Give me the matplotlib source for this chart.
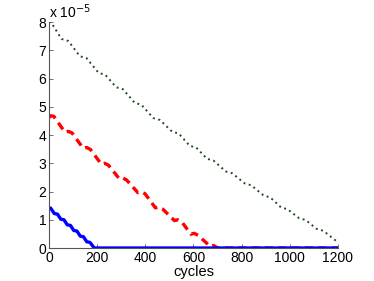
import matplotlib
matplotlib.use("Agg")
import matplotlib.pyplot as plt

plt.rcParams['font.family'] = ['Liberation Sans', 'DejaVu Sans']

# Blue (solid) series, values in units of 1e-5
blue_x = [0, 7, 22, 35, 49, 62, 76, 89, 103, 116, 130, 143, 157, 170, 188, 1200]
blue_y = [1.42, 1.41, 1.22, 1.20, 1.02, 1.00, 0.82, 0.80, 0.62, 0.60, 0.42, 0.40, 0.22, 0.20, 0.0, 0.0]

# Red (dashed) series
red_x = [0, 8, 20, 66, 80, 96, 142, 156, 172, 217, 231, 247, 292, 306, 322, 369, 383, 399, 442, 456, 472, 521, 535, 551, 589, 603, 619, 669, 683, 697, 705, 1200]
red_y = [4.62, 4.68, 4.66, 4.10, 4.13, 4.07, 3.53, 3.56, 3.49, 2.97, 3.00, 2.93, 2.45, 2.48, 2.41, 1.96, 1.99, 1.92, 1.42, 1.45, 1.38, 0.97, 1.00, 0.93, 0.49, 0.52, 0.45, 0.06, 0.09, 0.02, 0.0, 0.0]

# Green (dotted) series
green_x = [0, 10, 52, 80, 128, 156, 206, 234, 279, 307, 356, 384, 433, 461, 511, 539, 584, 612, 656, 684, 734, 762, 812, 840, 891, 919, 963, 991, 1038, 1066, 1111, 1139, 1200]
green_y = [8.02, 7.97, 7.40, 7.33, 6.79, 6.72, 6.20, 6.13, 5.69, 5.62, 5.14, 5.07, 4.60, 4.53, 4.12, 4.05, 3.62, 3.55, 3.16, 3.09, 2.71, 2.64, 2.29, 2.22, 1.86, 1.79, 1.44, 1.37, 1.06, 0.99, 0.68, 0.61, 0.20]

xticks = [0, 200, 400, 600, 800, 1000, 1200]
yticks = [0, 1, 2, 3, 4, 5, 6, 7, 8]

fig = plt.figure(figsize=(3.74, 2.81), dpi=100)
ax = fig.add_axes([0.131, 0.1174, 0.7727, 0.8043])

ax.plot(green_x, green_y, linestyle=(0, (1, 1.8)), color='#1e4d1e', linewidth=1.4)
ax.plot(red_x, red_y, linestyle=(0, (2.4, 1.6)), color='#ff0000', linewidth=2.4)
ax.plot(blue_x, blue_y, linestyle='-', color='#0000ff', linewidth=2.4, solid_capstyle='butt')

ax.set_xlim(0, 1200)
ax.set_ylim(0, 8)
ax.set_xticks(xticks)
ax.set_yticks(yticks)
ax.spines['top'].set_visible(False)
ax.spines['right'].set_visible(False)
for s in ['left', 'bottom']:
    ax.spines[s].set_color('#555555')
    ax.spines[s].set_linewidth(0.8)
ax.tick_params(direction='in', length=3, width=0.6, color='#555555', labelsize=10, pad=2)
ax.set_xlabel('cycles', fontsize=10.5, labelpad=0)
ax.text(0.0, 1.005, r'x 10$^{-5}$', transform=ax.transAxes, fontsize=10, ha='left', va='bottom')

fig.savefig('out.png', dpi=100)
